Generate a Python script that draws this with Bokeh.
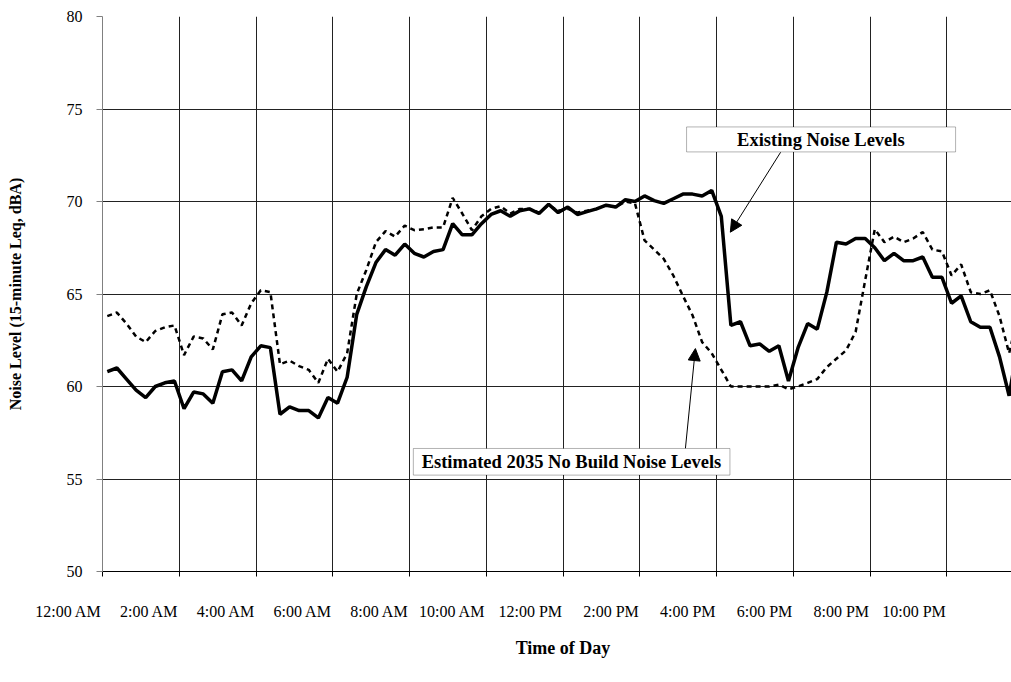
from bokeh.plotting import figure
from bokeh.layouts import column
from bokeh.models import FixedTicker, Label, BoxAnnotation, Arrow, NormalHead, Range1d
from bokeh.core.properties import value
from bokeh.embed import file_html
from bokeh.resources import INLINE

# 15-minute intervals over the day; each point is plotted in the middle of its interval
interval_index = list(range(96))
hours = [(i + 0.5) / 4 for i in interval_index]

existing = [
    60.8, 61.0, 60.4, 59.8, 59.4, 60.0, 60.2, 60.3,
    58.8, 59.7, 59.6, 59.1, 60.8, 60.9, 60.3, 61.6,
    62.2, 62.1, 58.5, 58.9, 58.7, 58.7, 58.3, 59.4,
    59.1, 60.5, 63.9, 65.4, 66.7, 67.4, 67.1, 67.7,
    67.2, 67.0, 67.3, 67.4, 68.8, 68.2, 68.2, 68.8,
    69.3, 69.5, 69.2, 69.5, 69.6, 69.35, 69.85, 69.4,
    69.7, 69.3, 69.45, 69.6, 69.8, 69.7, 70.1, 70.0,
    70.3, 70.05, 69.9, 70.15, 70.4, 70.4, 70.3, 70.6,
    69.2, 63.3, 63.5, 62.2, 62.3, 61.9, 62.2, 60.3,
    62.1, 63.4, 63.1, 65.1, 67.8, 67.7, 68.0, 68.0,
    67.5, 66.8, 67.2, 66.8, 66.8, 67.0, 65.9, 65.9,
    64.5, 64.9, 63.5, 63.2, 63.2, 61.6, 59.5, 62.5,
]

no_build_2035 = [
    63.8, 64.0, 63.4, 62.7, 62.4, 63.0, 63.2, 63.3,
    61.7, 62.7, 62.6, 62.0, 63.9, 64.0, 63.3, 64.5,
    65.2, 65.1, 61.2, 61.4, 61.1, 60.9, 60.2, 61.5,
    60.8, 61.8, 65.0, 66.3, 67.8, 68.4, 68.1, 68.7,
    68.45, 68.5, 68.6, 68.6, 70.2, 69.35, 68.45, 69.2,
    69.6, 69.75, 69.35, 69.6, 69.6, 69.4, 69.8, 69.5,
    69.6, 69.4, 69.5, 69.6, 69.8, 69.7, 70.0, 69.9,
    67.9, 67.4, 66.9, 66.0, 64.9, 63.85, 62.4, 61.8,
    60.9, 60.0, 60.0, 60.0, 60.0, 60.0, 60.1, 59.85,
    60.0, 60.2, 60.4, 61.05, 61.5, 61.95, 62.95, 65.75,
    68.5, 67.8, 68.1, 67.8, 68.0, 68.35, 67.4, 67.3,
    66.0, 66.6, 65.1, 65.0, 65.2, 63.8, 61.8, 64.0,
]

tick_hours = [0, 2, 4, 6, 8, 10, 12, 14, 16, 18, 20, 22]
tick_labels = ["12:00 AM", "2:00 AM", "4:00 AM", "6:00 AM", "8:00 AM", "10:00 AM",
               "12:00 PM", "2:00 PM", "4:00 PM", "6:00 PM", "8:00 PM", "10:00 PM"]
y_ticks = [50, 55, 60, 65, 70, 75, 80]

SERIF = "Liberation Serif"
W = 1011
LEFT = 102
X_END = 23.687                       # hours visible at the right edge of the window

# ---------------- main chart ----------------
p = figure(width=W, height=590, x_range=Range1d(0, X_END), y_range=Range1d(50, 80),
           output_backend="svg", toolbar_location=None,
           min_border_left=LEFT, min_border_right=0, min_border_top=16, min_border_bottom=19)
p.outline_line_color = None
p.background_fill_color = "white"
p.border_fill_color = "white"

p.xgrid.ticker = FixedTicker(ticks=tick_hours)
p.ygrid.ticker = FixedTicker(ticks=y_ticks)
for g in (p.xgrid, p.ygrid):
    g.grid_line_color = "#222222"
    g.grid_line_width = 1

p.line(hours, no_build_2035, line_color="black", line_width=2.5, line_dash="5 4")
p.line(hours, existing, line_color="black", line_width=3.5)

p.yaxis.ticker = FixedTicker(ticks=y_ticks)
p.yaxis.major_label_text_font = SERIF
p.yaxis.major_label_text_font_size = "16px"
p.yaxis.major_label_text_color = "black"
p.yaxis.major_tick_out = 6
p.yaxis.major_tick_in = 0
p.yaxis.minor_tick_line_color = None
p.yaxis.axis_line_color = "#808080"
p.yaxis.major_tick_line_color = "#808080"
p.yaxis.major_label_standoff = 14
p.yaxis.axis_label = "Noise Level (15-minute Leq, dBA)"
p.yaxis.axis_label_text_font = SERIF
p.yaxis.axis_label_text_font_style = "bold"
p.yaxis.axis_label_text_font_size = "16px"
p.yaxis.axis_label_text_color = "black"
p.yaxis.axis_label_standoff = 40

# x axis: tick marks only (carried as minor ticks); the labels are in the strip below
p.xaxis.ticker = FixedTicker(ticks=[], minor_ticks=tick_hours)
p.xaxis.major_tick_line_color = None
p.xaxis.minor_tick_out = 5
p.xaxis.minor_tick_in = 0
p.xaxis.minor_tick_line_color = "black"
p.xaxis.axis_line_color = "black"

# callouts
p.add_layout(BoxAnnotation(left=15.22, right=22.23, bottom=72.68, top=74.03,
                           fill_color="white", fill_alpha=1, line_color="black", line_width=1))
p.add_layout(Label(x=18.72, y=73.35, text="Existing Noise Levels", text_align="center",
                   text_baseline="middle", text_font=SERIF, text_font_style="bold",
                   text_font_size="18.5px", text_color="black"))
p.add_layout(Arrow(end=NormalHead(size=12, fill_color="black", line_color="black"),
                   x_start=17.67, y_start=72.66, x_end=16.36, y_end=68.34,
                   line_color="black", line_width=1))

p.add_layout(BoxAnnotation(left=8.10, right=16.35, bottom=55.21, top=56.65,
                           fill_color="white", fill_alpha=1, line_color="black", line_width=1))
p.add_layout(Label(x=12.22, y=55.93, text="Estimated 2035 No Build Noise Levels", text_align="center",
                   text_baseline="middle", text_font=SERIF, text_font_style="bold",
                   text_font_size="18.5px", text_color="black"))
p.add_layout(Arrow(end=NormalHead(size=12, fill_color="black", line_color="black"),
                   x_start=15.19, y_start=56.66, x_end=15.45, y_end=62.05,
                   line_color="black", line_width=1))

# ---------------- x tick labels and axis title strip ----------------
# frame is aligned with the chart's frame (same hour scale); y is pixels from the strip top
LABEL_ROW = 21
p2 = figure(width=W, height=92, x_range=Range1d(0, X_END), y_range=Range1d(92, 0),
            output_backend="svg", toolbar_location=None, x_axis_type=None,
            min_border_left=LEFT, min_border_right=0, min_border_top=0, min_border_bottom=0)
p2.outline_line_color = None
p2.background_fill_color = "white"
p2.border_fill_color = "white"
p2.grid.visible = False

# the first label sits left of the frame: carried by the strip's own left axis
p2.yaxis.ticker = FixedTicker(ticks=[LABEL_ROW])
p2.yaxis.major_label_overrides = {LABEL_ROW: tick_labels[0]}
p2.yaxis.major_tick_line_color = None
p2.yaxis.minor_tick_line_color = None
p2.yaxis.axis_line_color = None
p2.yaxis.major_tick_out = 0
p2.yaxis.major_tick_in = 0
p2.yaxis.major_label_standoff = 1
p2.yaxis.major_label_text_font = SERIF
p2.yaxis.major_label_text_font_size = "16px"
p2.yaxis.major_label_text_color = "black"

p2.text(x=tick_hours[1:], y=[LABEL_ROW] * (len(tick_hours) - 1), text=tick_labels[1:], text_align="right",
        text_baseline="middle", x_offset=-1, text_font=value(SERIF), text_font_size="16px",
        text_color="black")
p2.text(x=[12], y=[57], text=["Time of Day"], text_align="center", text_baseline="middle",
        text_font=value(SERIF), text_font_style="bold", text_font_size="18px", text_color="black")

layout = column(p, p2, spacing=0)
open("out.html", "w").write(file_html(layout, INLINE))
